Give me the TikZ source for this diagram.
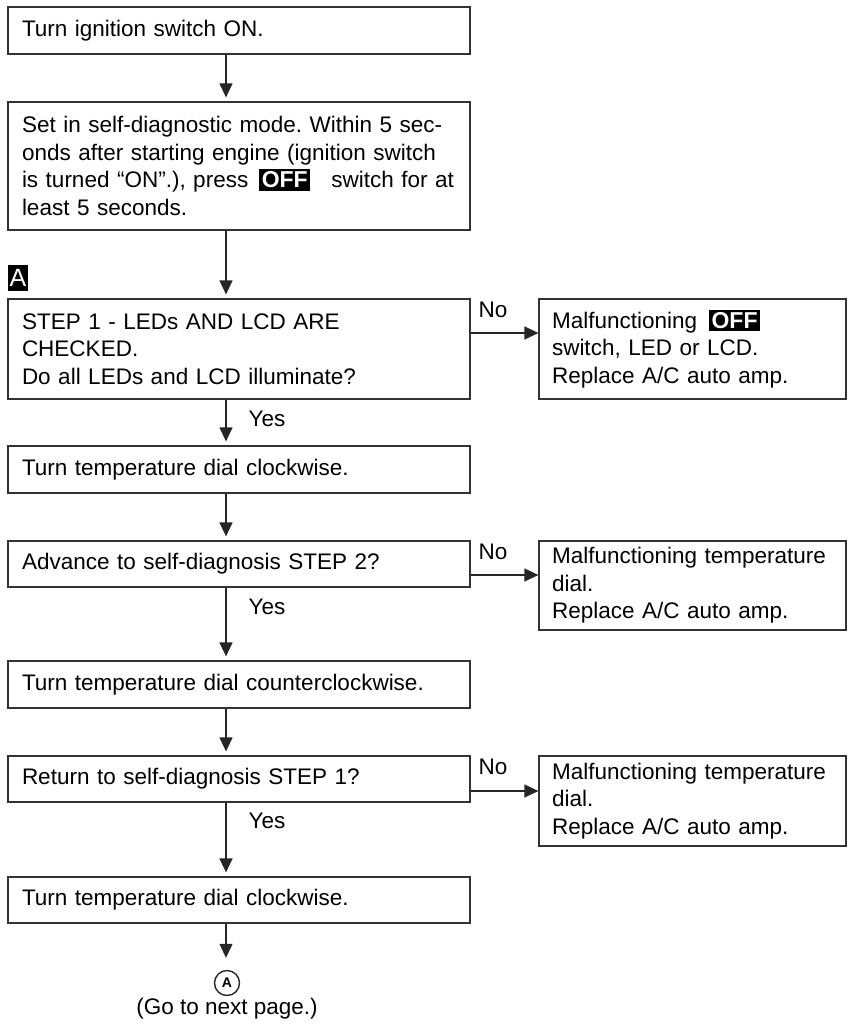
\documentclass[tikz,border=0pt]{standalone}
\usepackage{fontspec}
\setmainfont{Liberation Sans}
\usepackage{tikz}
\usetikzlibrary{arrows.meta,positioning}
\frenchspacing

\newcommand{\offkey}{{\setlength{\fboxsep}{2.5pt}\colorbox{black}{\textcolor{white}{\fontsize{23}{23}\selectfont\bfseries OFF}}}}

\begin{document}
\begin{tikzpicture}[
  x=1pt, y=-1pt,
  font=\fontsize{22.5}{27.5}\selectfont,
  lbox/.style={
    rectangle,
    draw=black!80,
    line width=1.2pt,
    align=left,
    inner xsep=14pt,
    text width=434pt
  },
  rbox/.style={
    lbox,
    inner xsep=13pt,
    text width=281pt
  },
  tag/.style={
    fill=black,
    text=white,
    inner sep=0pt,
    minimum width=20pt,
    minimum height=26pt,
    font=\fontsize{25}{25}\selectfont
  },
  link/.style={-{Triangle[width=13pt,length=14pt]}, line width=1.2pt, draw=black!85}
]
\useasboundingbox (0,0) rectangle (850,1024);

\node[lbox, minimum height=47pt] (ign) at (239,30.5) {Turn ignition switch ON.};
\node[lbox, minimum height=128pt] (selfdiag) at (239,166) {Set in self-diagnostic mode. Within 5 sec-\\onds after starting engine (ignition switch\\is turned “ON”.), press\hspace{11pt}\offkey\hspace{21pt}switch for at\\least 5 seconds.};
\node[tag] (tagA) at (18,278) {A};
\node[lbox, minimum height=100pt] (step1) at (239,349) {STEP 1 - LEDs AND LCD ARE\\CHECKED.\\Do all LEDs and LCD illuminate?};
\node[rbox, minimum height=100pt] (bad1) at (692.5,349) {Malfunctioning\hspace{12pt}\offkey\\switch, LED or LCD.\\Replace A/C auto amp.};
\node[lbox, minimum height=47pt] (cw1) at (239,469.5) {Turn temperature dial clockwise.};
\node[lbox, minimum height=46pt] (step2) at (239,564) {Advance to self-diagnosis STEP 2?};
\node[rbox, minimum height=89pt] (bad2) at (692.5,585.5) {Malfunctioning temperature\\dial.\\Replace A/C auto amp.};
\node[lbox, minimum height=47pt] (ccw) at (239,684.5) {Turn temperature dial counterclockwise.};
\node[lbox, minimum height=46pt] (step1b) at (239,779) {Return to self-diagnosis STEP 1?};
\node[rbox, minimum height=90pt] (bad3) at (692.5,801) {Malfunctioning temperature\\dial.\\Replace A/C auto amp.};
\node[lbox, minimum height=46pt] (cw2) at (239,900) {Turn temperature dial clockwise.};
\node[circle, draw=black!85, line width=1.4pt, minimum size=25pt, inner sep=0pt, font=\fontsize{14}{14}\selectfont\bfseries] (conA) at (227,983) {A};
\node[below=2pt of conA, inner sep=0pt] (nextpg) {(Go to next page.)};

\coordinate (spine) at (226,0);

\draw[link, shorten >=4pt] (ign.south -| spine) -- (selfdiag.north -| spine);
\draw[link, shorten >=4pt] (selfdiag.south -| spine) -- (step1.north -| spine);
\draw[link, shorten >=4pt] (step1.south -| spine) -- node[at start, anchor=north west, xshift=22pt, yshift=-11pt, inner sep=0pt]{Yes} (cw1.north -| spine);
\draw[link, shorten >=4pt] (cw1.south -| spine) -- (step2.north -| spine);
\draw[link, shorten >=4pt] (step2.south -| spine) -- node[at start, anchor=north west, xshift=22pt, yshift=-11pt, inner sep=0pt]{Yes} (ccw.north -| spine);
\draw[link, shorten >=4pt] (ccw.south -| spine) -- (step1b.north -| spine);
\draw[link, shorten >=4pt] (step1b.south -| spine) -- node[at start, anchor=north west, xshift=22pt, yshift=-10pt, inner sep=0pt]{Yes} (cw2.north -| spine);
\draw[link, shorten >=12pt] (cw2.south -| spine) -- (conA.north -| spine);

\draw[link] ([yshift=16pt]step1.east) -- node[pos=0.33, above=15pt, inner sep=0pt]{No} ([yshift=16pt]step1.east -| bad1.west);
\draw[link] ([yshift=-11pt]step2.east) -- node[pos=0.33, above=15pt, inner sep=0pt]{No} ([yshift=-11pt]step2.east -| bad2.west);
\draw[link] ([yshift=-12pt]step1b.east) -- node[pos=0.33, above=16pt, inner sep=0pt]{No} ([yshift=-12pt]step1b.east -| bad3.west);

\end{tikzpicture}
\end{document}
